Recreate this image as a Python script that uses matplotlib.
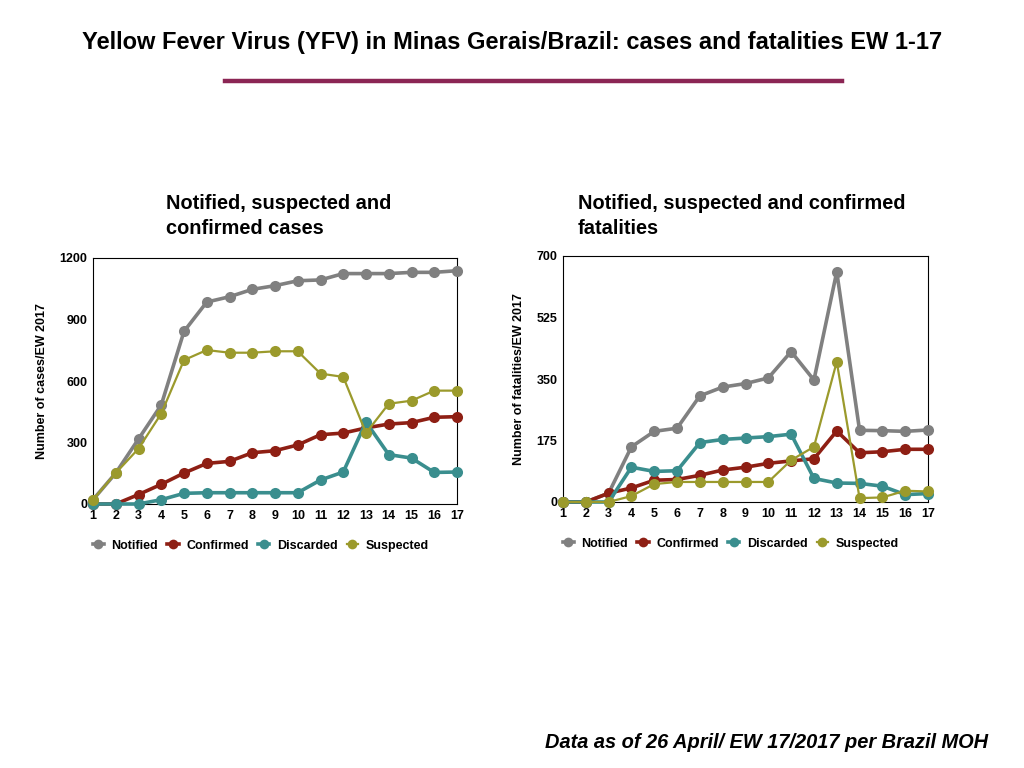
import matplotlib
matplotlib.use("Agg")
import matplotlib.pyplot as plt
from matplotlib import font_manager
from matplotlib.lines import Line2D

# -------- DATA --------
weeks = list(range(1, 18))

cases_notified = [21, 151, 317, 483, 842, 985, 1011, 1047, 1065, 1089, 1093, 1124, 1124, 1124, 1130, 1130, 1138]
cases_confirmed = [0, 0, 46, 96, 151, 198, 208, 250, 260, 288, 338, 346, 371, 390, 397, 423, 426]
cases_discarded = [0, 0, 0, 21, 52, 55, 55, 55, 55, 55, 117, 156, 400, 241, 224, 154, 156]
cases_suspected = [21, 151, 270, 441, 702, 751, 738, 738, 745, 745, 636, 620, 346, 489, 504, 553, 553]

fat_notified = [0, 0, 25, 157, 201, 210, 302, 327, 337, 353, 428, 347, 655, 204, 203, 201, 205]
fat_confirmed = [0, 0, 25, 40, 62, 64, 76, 91, 99, 110, 117, 123, 202, 140, 143, 150, 150]
fat_discarded = [0, 0, 0, 99, 87, 89, 169, 178, 182, 186, 193, 67, 54, 53, 45, 21, 24]
fat_suspected = [0, 0, 0, 17, 51, 57, 57, 57, 57, 57, 119, 157, 399, 11, 13, 32, 30]

cases_yticks = [0, 300, 600, 900, 1200]
fat_yticks = [0, 175, 350, 525, 700]

# -------- STYLE --------
FONT = ["Liberation Sans", "DejaVu Sans"]
plt.rcParams["font.family"] = FONT

# the slide title is set in a condensed face; use a narrow one if present
installed = {f.name for f in font_manager.fontManager.ttflist}
if "Liberation Sans Narrow" in installed:
    TITLE_FONT, TITLE_SIZE = ["Liberation Sans Narrow", "Liberation Sans"], 20
else:
    TITLE_FONT, TITLE_SIZE = FONT, 17

C_NOT = "#808080"
C_CONF = "#8e1f14"
C_DISC = "#3a8e8e"
C_SUSP = "#9b9a2c"

series_style = [
    ("Notified", C_NOT, 2.6),
    ("Confirmed", C_CONF, 2.6),
    ("Discarded", C_DISC, 2.6),
    ("Suspected", C_SUSP, 1.6),
]


def draw_panel(ax, data, yticks, ylabel):
    for (name, color, lw), vals in zip(series_style, data):
        ax.plot(weeks, vals, color=color, lw=lw, marker="o", ms=8,
                markeredgewidth=0, label=name, clip_on=False, zorder=3)
    ax.set_xlim(1, 17)
    ax.set_ylim(yticks[0], yticks[-1])
    ax.set_xticks(weeks)
    ax.set_yticks(yticks)
    ax.tick_params(length=0, labelsize=9, pad=4)
    for lab in ax.get_xticklabels() + ax.get_yticklabels():
        lab.set_fontweight("bold")
    for sp in ax.spines.values():
        sp.set_linewidth(0.8)
        sp.set_color("black")
    ax.set_ylabel(ylabel, fontsize=9, fontweight="bold", labelpad=8)

    handles = [Line2D([0], [0], color=c, lw=lw, marker="o", ms=7, markeredgewidth=0)
               for (n, c, lw) in series_style]
    ax.legend(handles, [s[0] for s in series_style], loc="upper left",
              bbox_to_anchor=(-0.015, -0.125), ncol=4, frameon=False,
              handlelength=0.9, handletextpad=0.6, columnspacing=0.75,
              borderaxespad=0, borderpad=0.4,
              prop={"weight": "bold", "size": 9, "family": FONT})


fig = plt.figure(figsize=(10.24, 7.68), dpi=100)
W, H = 1024, 768

# title and separator
fig.text(0.5, 1 - 42 / H, "Yellow Fever Virus (YFV) in Minas Gerais/Brazil: cases and fatalities EW 1-17",
         ha="center", va="center", fontsize=TITLE_SIZE, fontweight="bold", family=TITLE_FONT)
fig.add_artist(Line2D([225 / W, 842 / W], [1 - 81 / H, 1 - 81 / H], color="#8b2554", lw=3.2))

# left panel
ax1 = fig.add_axes([93 / W, 1 - 504 / H, (457 - 93) / W, (504 - 258) / H])
draw_panel(ax1, [cases_notified, cases_confirmed, cases_discarded, cases_suspected],
           cases_yticks, "Number of cases/EW 2017")
fig.text(166 / W, 1 - 194 / H, "Notified, suspected and\nconfirmed cases",
         ha="left", va="top", fontsize=14.4, fontweight="bold", linespacing=1.38)

# right panel
ax2 = fig.add_axes([563 / W, 1 - 502 / H, (928 - 563) / W, (502 - 256) / H])
draw_panel(ax2, [fat_notified, fat_confirmed, fat_discarded, fat_suspected],
           fat_yticks, "Number of fatalities/EW 2017")
fig.text(578 / W, 1 - 194 / H, "Notified, suspected and confirmed\nfatalities",
         ha="left", va="top", fontsize=14.4, fontweight="bold", linespacing=1.38)

# footer
fig.text(988 / W, 1 - 742 / H, "Data as of 26 April/ EW 17/2017 per Brazil MOH",
         ha="right", va="center", fontsize=14.4, fontweight="bold", style="italic")

fig.savefig("out.png", dpi=100)
